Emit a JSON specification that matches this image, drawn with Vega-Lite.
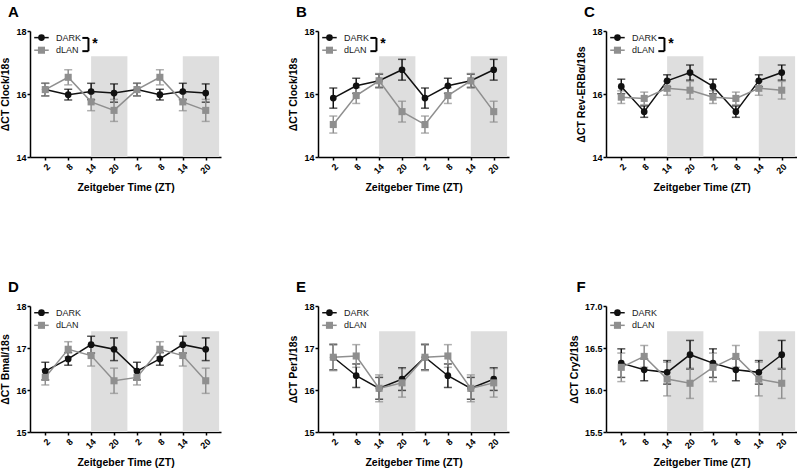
{
"$schema": "https://vega.github.io/schema/vega-lite/v6.json",
"padding": {"left": 0, "top": 5, "right": 0, "bottom": 0},
"datasets": {
"one": [{}],
"shade": [{"start": 14, "end": 23.5}, {"start": 38, "end": 47.5}],
"d": [
{"panel":"A","group":"DARK","zt":2,"mean":16.14,"sem":0.2},{"panel":"A","group":"DARK","zt":8,"mean":15.98,"sem":0.17},{"panel":"A","group":"DARK","zt":14,"mean":16.08,"sem":0.26},{"panel":"A","group":"DARK","zt":20,"mean":16.03,"sem":0.29},
{"panel":"A","group":"DARK","zt":26,"mean":16.14,"sem":0.2},{"panel":"A","group":"DARK","zt":32,"mean":15.98,"sem":0.17},{"panel":"A","group":"DARK","zt":38,"mean":16.08,"sem":0.26},{"panel":"A","group":"DARK","zt":44,"mean":16.03,"sem":0.29},
{"panel":"A","group":"dLAN","zt":2,"mean":16.14,"sem":0.2},{"panel":"A","group":"dLAN","zt":8,"mean":16.53,"sem":0.24},{"panel":"A","group":"dLAN","zt":14,"mean":15.75,"sem":0.28},{"panel":"A","group":"dLAN","zt":20,"mean":15.48,"sem":0.35},
{"panel":"A","group":"dLAN","zt":26,"mean":16.14,"sem":0.2},{"panel":"A","group":"dLAN","zt":32,"mean":16.53,"sem":0.24},{"panel":"A","group":"dLAN","zt":38,"mean":15.75,"sem":0.28},{"panel":"A","group":"dLAN","zt":44,"mean":15.48,"sem":0.35},
{"panel":"B","group":"DARK","zt":2,"mean":15.87,"sem":0.32},{"panel":"B","group":"DARK","zt":8,"mean":16.26,"sem":0.24},{"panel":"B","group":"DARK","zt":14,"mean":16.42,"sem":0.21},{"panel":"B","group":"DARK","zt":20,"mean":16.77,"sem":0.33},
{"panel":"B","group":"DARK","zt":26,"mean":15.87,"sem":0.32},{"panel":"B","group":"DARK","zt":32,"mean":16.26,"sem":0.24},{"panel":"B","group":"DARK","zt":38,"mean":16.42,"sem":0.21},{"panel":"B","group":"DARK","zt":44,"mean":16.77,"sem":0.33},
{"panel":"B","group":"dLAN","zt":2,"mean":15.03,"sem":0.27},{"panel":"B","group":"dLAN","zt":8,"mean":15.95,"sem":0.25},{"panel":"B","group":"dLAN","zt":14,"mean":16.42,"sem":0.23},{"panel":"B","group":"dLAN","zt":20,"mean":15.44,"sem":0.33},
{"panel":"B","group":"dLAN","zt":26,"mean":15.03,"sem":0.27},{"panel":"B","group":"dLAN","zt":32,"mean":15.95,"sem":0.25},{"panel":"B","group":"dLAN","zt":38,"mean":16.42,"sem":0.23},{"panel":"B","group":"dLAN","zt":44,"mean":15.44,"sem":0.33},
{"panel":"C","group":"DARK","zt":2,"mean":16.24,"sem":0.23},{"panel":"C","group":"DARK","zt":8,"mean":15.44,"sem":0.18},{"panel":"C","group":"DARK","zt":14,"mean":16.42,"sem":0.19},{"panel":"C","group":"DARK","zt":20,"mean":16.68,"sem":0.24},
{"panel":"C","group":"DARK","zt":26,"mean":16.24,"sem":0.23},{"panel":"C","group":"DARK","zt":32,"mean":15.44,"sem":0.18},{"panel":"C","group":"DARK","zt":38,"mean":16.42,"sem":0.19},{"panel":"C","group":"DARK","zt":44,"mean":16.68,"sem":0.24},
{"panel":"C","group":"dLAN","zt":2,"mean":15.9,"sem":0.2},{"panel":"C","group":"dLAN","zt":8,"mean":15.86,"sem":0.2},{"panel":"C","group":"dLAN","zt":14,"mean":16.18,"sem":0.22},{"panel":"C","group":"dLAN","zt":20,"mean":16.12,"sem":0.28},
{"panel":"C","group":"dLAN","zt":26,"mean":15.9,"sem":0.2},{"panel":"C","group":"dLAN","zt":32,"mean":15.86,"sem":0.2},{"panel":"C","group":"dLAN","zt":38,"mean":16.18,"sem":0.22},{"panel":"C","group":"dLAN","zt":44,"mean":16.12,"sem":0.28},
{"panel":"D","group":"DARK","zt":2,"mean":16.45,"sem":0.21},{"panel":"D","group":"DARK","zt":8,"mean":16.74,"sem":0.15},{"panel":"D","group":"DARK","zt":14,"mean":17.08,"sem":0.2},{"panel":"D","group":"DARK","zt":20,"mean":16.97,"sem":0.27},
{"panel":"D","group":"DARK","zt":26,"mean":16.45,"sem":0.21},{"panel":"D","group":"DARK","zt":32,"mean":16.74,"sem":0.15},{"panel":"D","group":"DARK","zt":38,"mean":17.08,"sem":0.2},{"panel":"D","group":"DARK","zt":44,"mean":16.97,"sem":0.27},
{"panel":"D","group":"dLAN","zt":2,"mean":16.3,"sem":0.18},{"panel":"D","group":"dLAN","zt":8,"mean":16.97,"sem":0.18},{"panel":"D","group":"dLAN","zt":14,"mean":16.82,"sem":0.25},{"panel":"D","group":"dLAN","zt":20,"mean":16.22,"sem":0.3},
{"panel":"D","group":"dLAN","zt":26,"mean":16.3,"sem":0.18},{"panel":"D","group":"dLAN","zt":32,"mean":16.97,"sem":0.18},{"panel":"D","group":"dLAN","zt":38,"mean":16.82,"sem":0.25},{"panel":"D","group":"dLAN","zt":44,"mean":16.22,"sem":0.3},
{"panel":"E","group":"DARK","zt":2,"mean":16.78,"sem":0.3},{"panel":"E","group":"DARK","zt":8,"mean":16.34,"sem":0.28},{"panel":"E","group":"DARK","zt":14,"mean":16.04,"sem":0.26},{"panel":"E","group":"DARK","zt":20,"mean":16.26,"sem":0.27},
{"panel":"E","group":"DARK","zt":26,"mean":16.78,"sem":0.3},{"panel":"E","group":"DARK","zt":32,"mean":16.34,"sem":0.28},{"panel":"E","group":"DARK","zt":38,"mean":16.04,"sem":0.26},{"panel":"E","group":"DARK","zt":44,"mean":16.26,"sem":0.27},
{"panel":"E","group":"dLAN","zt":2,"mean":16.78,"sem":0.32},{"panel":"E","group":"dLAN","zt":8,"mean":16.81,"sem":0.27},{"panel":"E","group":"dLAN","zt":14,"mean":16.04,"sem":0.32},{"panel":"E","group":"dLAN","zt":20,"mean":16.17,"sem":0.34},
{"panel":"E","group":"dLAN","zt":26,"mean":16.78,"sem":0.32},{"panel":"E","group":"dLAN","zt":32,"mean":16.81,"sem":0.27},{"panel":"E","group":"dLAN","zt":38,"mean":16.04,"sem":0.32},{"panel":"E","group":"dLAN","zt":44,"mean":16.17,"sem":0.34},
{"panel":"F","group":"DARK","zt":2,"mean":16.32,"sem":0.17},{"panel":"F","group":"DARK","zt":8,"mean":16.24,"sem":0.13},{"panel":"F","group":"DARK","zt":14,"mean":16.21,"sem":0.14},{"panel":"F","group":"DARK","zt":20,"mean":16.42,"sem":0.17},
{"panel":"F","group":"DARK","zt":26,"mean":16.32,"sem":0.17},{"panel":"F","group":"DARK","zt":32,"mean":16.24,"sem":0.13},{"panel":"F","group":"DARK","zt":38,"mean":16.21,"sem":0.14},{"panel":"F","group":"DARK","zt":44,"mean":16.42,"sem":0.17},
{"panel":"F","group":"dLAN","zt":2,"mean":16.27,"sem":0.17},{"panel":"F","group":"dLAN","zt":8,"mean":16.4,"sem":0.13},{"panel":"F","group":"dLAN","zt":14,"mean":16.13,"sem":0.2},{"panel":"F","group":"dLAN","zt":20,"mean":16.08,"sem":0.18},
{"panel":"F","group":"dLAN","zt":26,"mean":16.27,"sem":0.17},{"panel":"F","group":"dLAN","zt":32,"mean":16.4,"sem":0.13},{"panel":"F","group":"dLAN","zt":38,"mean":16.13,"sem":0.2},{"panel":"F","group":"dLAN","zt":44,"mean":16.08,"sem":0.18}
]
},
"bounds": "flush",
"spacing": 275,
"resolve": {"scale": {"color": "independent"}, "legend": {"color": "independent"}},
"vconcat": [
{"hconcat": [
{"title": "A", "width": 191, "height": 126, "layer": [
 {"data": {"name": "shade"}, "mark": {"type": "rect", "color": "#dedede"}, "encoding": {
  "x": {"field": "start", "type": "quantitative", "title": "Zeitgeber Time (ZT)", "scale": {"domain": [-2, 48], "nice": false, "zero": false}, "axis": {"values": [2,8,14,20,26,32,38,44], "labelExpr": "'' + (datum.value % 24)", "labelAngle": -45, "labelOverlap": false}},
  "x2": {"field": "end"},
  "y": {"datum": 17.2, "type": "quantitative", "title": "ΔCT Clock/18s", "scale": {"domain": [14, 18], "nice": false, "zero": false}, "axis": {"values": [14,15,16,17,18]}},
  "y2": {"datum": 14}}},
 {"data": {"name": "d"}, "transform": [{"filter": "datum.panel === 'A'"}],
  "encoding": {"x": {"field": "zt", "type": "quantitative", "title": "Zeitgeber Time (ZT)", "axis": {"values": [2,8,14,20,26,32,38,44], "labelExpr": "'' + (datum.value % 24)", "labelAngle": -45, "labelOverlap": false}}, "y": {"field": "mean", "type": "quantitative", "title": "ΔCT Clock/18s"},
   "color": {"field": "group", "type": "nominal", "scale": {"domain": ["DARK", "dLAN"], "range": ["#111111", "#8f8f8f"]}, "legend": null}},
  "layer": [
   {"mark": {"type": "errorbar", "ticks": {"size": 8}, "thickness": 1.5}, "encoding": {"yError": {"field": "sem"}}},
   {"mark": {"type": "line", "strokeWidth": 1.5}, "encoding": {}},
   {"transform": [{"filter": "datum.group === 'DARK'"}], "mark": {"type": "point", "shape": "circle", "filled": true, "opacity": 1, "size": 45}, "encoding": {}},
   {"transform": [{"filter": "datum.group === 'dLAN'"}], "mark": {"type": "point", "shape": "square", "filled": true, "opacity": 1, "size": 50}, "encoding": {}}
  ]},
 {"data": {"name": "one"}, "mark": {"type": "rule", "color": "#111111", "strokeWidth": 1.5}, "encoding": {"x": {"datum": -0.9, "type": "quantitative", "axis": {"values": [2,8,14,20,26,32,38,44], "labelExpr": "'' + (datum.value % 24)", "labelAngle": -45, "labelOverlap": false}}, "x2": {"datum": 2.9}, "y": {"datum": 17.79}}},
 {"data": {"name": "one"}, "mark": {"type": "point", "shape": "circle", "filled": true, "opacity": 1, "size": 45, "color": "#111111"}, "encoding": {"x": {"datum": 1, "type": "quantitative", "axis": {"values": [2,8,14,20,26,32,38,44], "labelExpr": "'' + (datum.value % 24)", "labelAngle": -45, "labelOverlap": false}}, "y": {"datum": 17.79}}},
 {"data": {"name": "one"}, "mark": {"type": "text", "text": "DARK", "fontSize": 9, "color": "#222", "align": "left", "baseline": "middle"}, "encoding": {"x": {"datum": 4.8, "type": "quantitative", "axis": {"values": [2,8,14,20,26,32,38,44], "labelExpr": "'' + (datum.value % 24)", "labelAngle": -45, "labelOverlap": false}}, "y": {"datum": 17.79}}},
 {"data": {"name": "one"}, "mark": {"type": "rule", "color": "#8f8f8f", "strokeWidth": 1.5}, "encoding": {"x": {"datum": -0.9, "type": "quantitative", "axis": {"values": [2,8,14,20,26,32,38,44], "labelExpr": "'' + (datum.value % 24)", "labelAngle": -45, "labelOverlap": false}}, "x2": {"datum": 2.9}, "y": {"datum": 17.39}}},
 {"data": {"name": "one"}, "mark": {"type": "point", "shape": "square", "filled": true, "opacity": 1, "size": 50, "color": "#8f8f8f"}, "encoding": {"x": {"datum": 1, "type": "quantitative", "axis": {"values": [2,8,14,20,26,32,38,44], "labelExpr": "'' + (datum.value % 24)", "labelAngle": -45, "labelOverlap": false}}, "y": {"datum": 17.39}}},
 {"data": {"name": "one"}, "mark": {"type": "text", "text": "dLAN", "fontSize": 9, "color": "#222", "align": "left", "baseline": "middle"}, "encoding": {"x": {"datum": 4.8, "type": "quantitative", "axis": {"values": [2,8,14,20,26,32,38,44], "labelExpr": "'' + (datum.value % 24)", "labelAngle": -45, "labelOverlap": false}}, "y": {"datum": 17.39}}},
 {"data": {"name": "one"}, "mark": {"type": "rule", "strokeWidth": 2, "color": "#000"}, "encoding": {"x": {"datum": 13.3, "type": "quantitative", "axis": {"values": [2,8,14,20,26,32,38,44], "labelExpr": "'' + (datum.value % 24)", "labelAngle": -45, "labelOverlap": false}}, "y": {"datum": 17.78}, "y2": {"datum": 17.36}}},
 {"data": {"name": "one"}, "mark": {"type": "rule", "strokeWidth": 2, "color": "#000"}, "encoding": {"x": {"datum": 11.7, "type": "quantitative", "axis": {"values": [2,8,14,20,26,32,38,44], "labelExpr": "'' + (datum.value % 24)", "labelAngle": -45, "labelOverlap": false}}, "x2": {"datum": 13.3}, "y": {"datum": 17.78}}},
 {"data": {"name": "one"}, "mark": {"type": "rule", "strokeWidth": 2, "color": "#000"}, "encoding": {"x": {"datum": 11.7, "type": "quantitative", "axis": {"values": [2,8,14,20,26,32,38,44], "labelExpr": "'' + (datum.value % 24)", "labelAngle": -45, "labelOverlap": false}}, "x2": {"datum": 13.3}, "y": {"datum": 17.36}}},
 {"data": {"name": "one"}, "mark": {"type": "text", "text": "*", "fontSize": 14, "fontWeight": "bold", "color": "#000", "align": "left", "baseline": "middle"}, "encoding": {"x": {"datum": 14.3, "type": "quantitative", "axis": {"values": [2,8,14,20,26,32,38,44], "labelExpr": "'' + (datum.value % 24)", "labelAngle": -45, "labelOverlap": false}}, "y": {"datum": 17.6}}}
]},
{"title": "B", "width": 191, "height": 126, "layer": [
 {"data": {"name": "shade"}, "mark": {"type": "rect", "color": "#dedede"}, "encoding": {
  "x": {"field": "start", "type": "quantitative", "title": "Zeitgeber Time (ZT)", "scale": {"domain": [-2, 48], "nice": false, "zero": false}, "axis": {"values": [2,8,14,20,26,32,38,44], "labelExpr": "'' + (datum.value % 24)", "labelAngle": -45, "labelOverlap": false}},
  "x2": {"field": "end"},
  "y": {"datum": 17.2, "type": "quantitative", "title": "ΔCT Clock/18s", "scale": {"domain": [14, 18], "nice": false, "zero": false}, "axis": {"values": [14,15,16,17,18]}},
  "y2": {"datum": 14}}},
 {"data": {"name": "d"}, "transform": [{"filter": "datum.panel === 'B'"}],
  "encoding": {"x": {"field": "zt", "type": "quantitative", "title": "Zeitgeber Time (ZT)", "axis": {"values": [2,8,14,20,26,32,38,44], "labelExpr": "'' + (datum.value % 24)", "labelAngle": -45, "labelOverlap": false}}, "y": {"field": "mean", "type": "quantitative", "title": "ΔCT Clock/18s"},
   "color": {"field": "group", "type": "nominal", "scale": {"domain": ["DARK", "dLAN"], "range": ["#111111", "#8f8f8f"]}, "legend": null}},
  "layer": [
   {"mark": {"type": "errorbar", "ticks": {"size": 8}, "thickness": 1.5}, "encoding": {"yError": {"field": "sem"}}},
   {"mark": {"type": "line", "strokeWidth": 1.5}, "encoding": {}},
   {"transform": [{"filter": "datum.group === 'DARK'"}], "mark": {"type": "point", "shape": "circle", "filled": true, "opacity": 1, "size": 45}, "encoding": {}},
   {"transform": [{"filter": "datum.group === 'dLAN'"}], "mark": {"type": "point", "shape": "square", "filled": true, "opacity": 1, "size": 50}, "encoding": {}}
  ]},
 {"data": {"name": "one"}, "mark": {"type": "rule", "color": "#111111", "strokeWidth": 1.5}, "encoding": {"x": {"datum": -0.9, "type": "quantitative", "axis": {"values": [2,8,14,20,26,32,38,44], "labelExpr": "'' + (datum.value % 24)", "labelAngle": -45, "labelOverlap": false}}, "x2": {"datum": 2.9}, "y": {"datum": 17.79}}},
 {"data": {"name": "one"}, "mark": {"type": "point", "shape": "circle", "filled": true, "opacity": 1, "size": 45, "color": "#111111"}, "encoding": {"x": {"datum": 1, "type": "quantitative", "axis": {"values": [2,8,14,20,26,32,38,44], "labelExpr": "'' + (datum.value % 24)", "labelAngle": -45, "labelOverlap": false}}, "y": {"datum": 17.79}}},
 {"data": {"name": "one"}, "mark": {"type": "text", "text": "DARK", "fontSize": 9, "color": "#222", "align": "left", "baseline": "middle"}, "encoding": {"x": {"datum": 4.8, "type": "quantitative", "axis": {"values": [2,8,14,20,26,32,38,44], "labelExpr": "'' + (datum.value % 24)", "labelAngle": -45, "labelOverlap": false}}, "y": {"datum": 17.79}}},
 {"data": {"name": "one"}, "mark": {"type": "rule", "color": "#8f8f8f", "strokeWidth": 1.5}, "encoding": {"x": {"datum": -0.9, "type": "quantitative", "axis": {"values": [2,8,14,20,26,32,38,44], "labelExpr": "'' + (datum.value % 24)", "labelAngle": -45, "labelOverlap": false}}, "x2": {"datum": 2.9}, "y": {"datum": 17.39}}},
 {"data": {"name": "one"}, "mark": {"type": "point", "shape": "square", "filled": true, "opacity": 1, "size": 50, "color": "#8f8f8f"}, "encoding": {"x": {"datum": 1, "type": "quantitative", "axis": {"values": [2,8,14,20,26,32,38,44], "labelExpr": "'' + (datum.value % 24)", "labelAngle": -45, "labelOverlap": false}}, "y": {"datum": 17.39}}},
 {"data": {"name": "one"}, "mark": {"type": "text", "text": "dLAN", "fontSize": 9, "color": "#222", "align": "left", "baseline": "middle"}, "encoding": {"x": {"datum": 4.8, "type": "quantitative", "axis": {"values": [2,8,14,20,26,32,38,44], "labelExpr": "'' + (datum.value % 24)", "labelAngle": -45, "labelOverlap": false}}, "y": {"datum": 17.39}}},
 {"data": {"name": "one"}, "mark": {"type": "rule", "strokeWidth": 2, "color": "#000"}, "encoding": {"x": {"datum": 13.3, "type": "quantitative", "axis": {"values": [2,8,14,20,26,32,38,44], "labelExpr": "'' + (datum.value % 24)", "labelAngle": -45, "labelOverlap": false}}, "y": {"datum": 17.78}, "y2": {"datum": 17.36}}},
 {"data": {"name": "one"}, "mark": {"type": "rule", "strokeWidth": 2, "color": "#000"}, "encoding": {"x": {"datum": 11.7, "type": "quantitative", "axis": {"values": [2,8,14,20,26,32,38,44], "labelExpr": "'' + (datum.value % 24)", "labelAngle": -45, "labelOverlap": false}}, "x2": {"datum": 13.3}, "y": {"datum": 17.78}}},
 {"data": {"name": "one"}, "mark": {"type": "rule", "strokeWidth": 2, "color": "#000"}, "encoding": {"x": {"datum": 11.7, "type": "quantitative", "axis": {"values": [2,8,14,20,26,32,38,44], "labelExpr": "'' + (datum.value % 24)", "labelAngle": -45, "labelOverlap": false}}, "x2": {"datum": 13.3}, "y": {"datum": 17.36}}},
 {"data": {"name": "one"}, "mark": {"type": "text", "text": "*", "fontSize": 14, "fontWeight": "bold", "color": "#000", "align": "left", "baseline": "middle"}, "encoding": {"x": {"datum": 14.3, "type": "quantitative", "axis": {"values": [2,8,14,20,26,32,38,44], "labelExpr": "'' + (datum.value % 24)", "labelAngle": -45, "labelOverlap": false}}, "y": {"datum": 17.6}}}
]},
{"title": "C", "width": 191, "height": 126, "layer": [
 {"data": {"name": "shade"}, "mark": {"type": "rect", "color": "#dedede"}, "encoding": {
  "x": {"field": "start", "type": "quantitative", "title": "Zeitgeber Time (ZT)", "scale": {"domain": [-2, 48], "nice": false, "zero": false}, "axis": {"values": [2,8,14,20,26,32,38,44], "labelExpr": "'' + (datum.value % 24)", "labelAngle": -45, "labelOverlap": false}},
  "x2": {"field": "end"},
  "y": {"datum": 17.2, "type": "quantitative", "title": "ΔCT Rev-ERBα/18s", "scale": {"domain": [14, 18], "nice": false, "zero": false}, "axis": {"values": [14,15,16,17,18]}},
  "y2": {"datum": 14}}},
 {"data": {"name": "d"}, "transform": [{"filter": "datum.panel === 'C'"}],
  "encoding": {"x": {"field": "zt", "type": "quantitative", "title": "Zeitgeber Time (ZT)", "axis": {"values": [2,8,14,20,26,32,38,44], "labelExpr": "'' + (datum.value % 24)", "labelAngle": -45, "labelOverlap": false}}, "y": {"field": "mean", "type": "quantitative", "title": "ΔCT Rev-ERBα/18s"},
   "color": {"field": "group", "type": "nominal", "scale": {"domain": ["DARK", "dLAN"], "range": ["#111111", "#8f8f8f"]}, "legend": null}},
  "layer": [
   {"mark": {"type": "errorbar", "ticks": {"size": 8}, "thickness": 1.5}, "encoding": {"yError": {"field": "sem"}}},
   {"mark": {"type": "line", "strokeWidth": 1.5}, "encoding": {}},
   {"transform": [{"filter": "datum.group === 'DARK'"}], "mark": {"type": "point", "shape": "circle", "filled": true, "opacity": 1, "size": 45}, "encoding": {}},
   {"transform": [{"filter": "datum.group === 'dLAN'"}], "mark": {"type": "point", "shape": "square", "filled": true, "opacity": 1, "size": 50}, "encoding": {}}
  ]},
 {"data": {"name": "one"}, "mark": {"type": "rule", "color": "#111111", "strokeWidth": 1.5}, "encoding": {"x": {"datum": -0.9, "type": "quantitative", "axis": {"values": [2,8,14,20,26,32,38,44], "labelExpr": "'' + (datum.value % 24)", "labelAngle": -45, "labelOverlap": false}}, "x2": {"datum": 2.9}, "y": {"datum": 17.79}}},
 {"data": {"name": "one"}, "mark": {"type": "point", "shape": "circle", "filled": true, "opacity": 1, "size": 45, "color": "#111111"}, "encoding": {"x": {"datum": 1, "type": "quantitative", "axis": {"values": [2,8,14,20,26,32,38,44], "labelExpr": "'' + (datum.value % 24)", "labelAngle": -45, "labelOverlap": false}}, "y": {"datum": 17.79}}},
 {"data": {"name": "one"}, "mark": {"type": "text", "text": "DARK", "fontSize": 9, "color": "#222", "align": "left", "baseline": "middle"}, "encoding": {"x": {"datum": 4.8, "type": "quantitative", "axis": {"values": [2,8,14,20,26,32,38,44], "labelExpr": "'' + (datum.value % 24)", "labelAngle": -45, "labelOverlap": false}}, "y": {"datum": 17.79}}},
 {"data": {"name": "one"}, "mark": {"type": "rule", "color": "#8f8f8f", "strokeWidth": 1.5}, "encoding": {"x": {"datum": -0.9, "type": "quantitative", "axis": {"values": [2,8,14,20,26,32,38,44], "labelExpr": "'' + (datum.value % 24)", "labelAngle": -45, "labelOverlap": false}}, "x2": {"datum": 2.9}, "y": {"datum": 17.39}}},
 {"data": {"name": "one"}, "mark": {"type": "point", "shape": "square", "filled": true, "opacity": 1, "size": 50, "color": "#8f8f8f"}, "encoding": {"x": {"datum": 1, "type": "quantitative", "axis": {"values": [2,8,14,20,26,32,38,44], "labelExpr": "'' + (datum.value % 24)", "labelAngle": -45, "labelOverlap": false}}, "y": {"datum": 17.39}}},
 {"data": {"name": "one"}, "mark": {"type": "text", "text": "dLAN", "fontSize": 9, "color": "#222", "align": "left", "baseline": "middle"}, "encoding": {"x": {"datum": 4.8, "type": "quantitative", "axis": {"values": [2,8,14,20,26,32,38,44], "labelExpr": "'' + (datum.value % 24)", "labelAngle": -45, "labelOverlap": false}}, "y": {"datum": 17.39}}},
 {"data": {"name": "one"}, "mark": {"type": "rule", "strokeWidth": 2, "color": "#000"}, "encoding": {"x": {"datum": 13.3, "type": "quantitative", "axis": {"values": [2,8,14,20,26,32,38,44], "labelExpr": "'' + (datum.value % 24)", "labelAngle": -45, "labelOverlap": false}}, "y": {"datum": 17.78}, "y2": {"datum": 17.36}}},
 {"data": {"name": "one"}, "mark": {"type": "rule", "strokeWidth": 2, "color": "#000"}, "encoding": {"x": {"datum": 11.7, "type": "quantitative", "axis": {"values": [2,8,14,20,26,32,38,44], "labelExpr": "'' + (datum.value % 24)", "labelAngle": -45, "labelOverlap": false}}, "x2": {"datum": 13.3}, "y": {"datum": 17.78}}},
 {"data": {"name": "one"}, "mark": {"type": "rule", "strokeWidth": 2, "color": "#000"}, "encoding": {"x": {"datum": 11.7, "type": "quantitative", "axis": {"values": [2,8,14,20,26,32,38,44], "labelExpr": "'' + (datum.value % 24)", "labelAngle": -45, "labelOverlap": false}}, "x2": {"datum": 13.3}, "y": {"datum": 17.36}}},
 {"data": {"name": "one"}, "mark": {"type": "text", "text": "*", "fontSize": 14, "fontWeight": "bold", "color": "#000", "align": "left", "baseline": "middle"}, "encoding": {"x": {"datum": 14.3, "type": "quantitative", "axis": {"values": [2,8,14,20,26,32,38,44], "labelExpr": "'' + (datum.value % 24)", "labelAngle": -45, "labelOverlap": false}}, "y": {"datum": 17.6}}}
]}
], "spacing": 97, "bounds": "flush", "resolve": {"scale": {"color": "independent"}, "legend": {"color": "independent"}}},
{"hconcat": [
{"title": "D", "width": 191, "height": 126, "layer": [
 {"data": {"name": "shade"}, "mark": {"type": "rect", "color": "#dedede"}, "encoding": {
  "x": {"field": "start", "type": "quantitative", "title": "Zeitgeber Time (ZT)", "scale": {"domain": [-2, 48], "nice": false, "zero": false}, "axis": {"values": [2,8,14,20,26,32,38,44], "labelExpr": "'' + (datum.value % 24)", "labelAngle": -45, "labelOverlap": false}},
  "x2": {"field": "end"},
  "y": {"datum": 17.4, "type": "quantitative", "title": "ΔCT Bmal/18s", "scale": {"domain": [15, 18], "nice": false, "zero": false}, "axis": {"values": [15,16,17,18]}},
  "y2": {"datum": 15}}},
 {"data": {"name": "d"}, "transform": [{"filter": "datum.panel === 'D'"}],
  "encoding": {"x": {"field": "zt", "type": "quantitative", "title": "Zeitgeber Time (ZT)", "axis": {"values": [2,8,14,20,26,32,38,44], "labelExpr": "'' + (datum.value % 24)", "labelAngle": -45, "labelOverlap": false}}, "y": {"field": "mean", "type": "quantitative", "title": "ΔCT Bmal/18s"},
   "color": {"field": "group", "type": "nominal", "scale": {"domain": ["DARK", "dLAN"], "range": ["#111111", "#8f8f8f"]}, "legend": null}},
  "layer": [
   {"mark": {"type": "errorbar", "ticks": {"size": 8}, "thickness": 1.5}, "encoding": {"yError": {"field": "sem"}}},
   {"mark": {"type": "line", "strokeWidth": 1.5}, "encoding": {}},
   {"transform": [{"filter": "datum.group === 'DARK'"}], "mark": {"type": "point", "shape": "circle", "filled": true, "opacity": 1, "size": 45}, "encoding": {}},
   {"transform": [{"filter": "datum.group === 'dLAN'"}], "mark": {"type": "point", "shape": "square", "filled": true, "opacity": 1, "size": 50}, "encoding": {}}
  ]},
 {"data": {"name": "one"}, "mark": {"type": "rule", "color": "#111111", "strokeWidth": 1.5}, "encoding": {"x": {"datum": -0.9, "type": "quantitative", "axis": {"values": [2,8,14,20,26,32,38,44], "labelExpr": "'' + (datum.value % 24)", "labelAngle": -45, "labelOverlap": false}}, "x2": {"datum": 2.9}, "y": {"datum": 17.84}}},
 {"data": {"name": "one"}, "mark": {"type": "point", "shape": "circle", "filled": true, "opacity": 1, "size": 45, "color": "#111111"}, "encoding": {"x": {"datum": 1, "type": "quantitative", "axis": {"values": [2,8,14,20,26,32,38,44], "labelExpr": "'' + (datum.value % 24)", "labelAngle": -45, "labelOverlap": false}}, "y": {"datum": 17.84}}},
 {"data": {"name": "one"}, "mark": {"type": "text", "text": "DARK", "fontSize": 9, "color": "#222", "align": "left", "baseline": "middle"}, "encoding": {"x": {"datum": 4.8, "type": "quantitative", "axis": {"values": [2,8,14,20,26,32,38,44], "labelExpr": "'' + (datum.value % 24)", "labelAngle": -45, "labelOverlap": false}}, "y": {"datum": 17.84}}},
 {"data": {"name": "one"}, "mark": {"type": "rule", "color": "#8f8f8f", "strokeWidth": 1.5}, "encoding": {"x": {"datum": -0.9, "type": "quantitative", "axis": {"values": [2,8,14,20,26,32,38,44], "labelExpr": "'' + (datum.value % 24)", "labelAngle": -45, "labelOverlap": false}}, "x2": {"datum": 2.9}, "y": {"datum": 17.54}}},
 {"data": {"name": "one"}, "mark": {"type": "point", "shape": "square", "filled": true, "opacity": 1, "size": 50, "color": "#8f8f8f"}, "encoding": {"x": {"datum": 1, "type": "quantitative", "axis": {"values": [2,8,14,20,26,32,38,44], "labelExpr": "'' + (datum.value % 24)", "labelAngle": -45, "labelOverlap": false}}, "y": {"datum": 17.54}}},
 {"data": {"name": "one"}, "mark": {"type": "text", "text": "dLAN", "fontSize": 9, "color": "#222", "align": "left", "baseline": "middle"}, "encoding": {"x": {"datum": 4.8, "type": "quantitative", "axis": {"values": [2,8,14,20,26,32,38,44], "labelExpr": "'' + (datum.value % 24)", "labelAngle": -45, "labelOverlap": false}}, "y": {"datum": 17.54}}}
]},
{"title": "E", "width": 191, "height": 126, "layer": [
 {"data": {"name": "shade"}, "mark": {"type": "rect", "color": "#dedede"}, "encoding": {
  "x": {"field": "start", "type": "quantitative", "title": "Zeitgeber Time (ZT)", "scale": {"domain": [-2, 48], "nice": false, "zero": false}, "axis": {"values": [2,8,14,20,26,32,38,44], "labelExpr": "'' + (datum.value % 24)", "labelAngle": -45, "labelOverlap": false}},
  "x2": {"field": "end"},
  "y": {"datum": 17.4, "type": "quantitative", "title": "ΔCT Per1/18s", "scale": {"domain": [15, 18], "nice": false, "zero": false}, "axis": {"values": [15,16,17,18]}},
  "y2": {"datum": 15}}},
 {"data": {"name": "d"}, "transform": [{"filter": "datum.panel === 'E'"}],
  "encoding": {"x": {"field": "zt", "type": "quantitative", "title": "Zeitgeber Time (ZT)", "axis": {"values": [2,8,14,20,26,32,38,44], "labelExpr": "'' + (datum.value % 24)", "labelAngle": -45, "labelOverlap": false}}, "y": {"field": "mean", "type": "quantitative", "title": "ΔCT Per1/18s"},
   "color": {"field": "group", "type": "nominal", "scale": {"domain": ["DARK", "dLAN"], "range": ["#111111", "#8f8f8f"]}, "legend": null}},
  "layer": [
   {"mark": {"type": "errorbar", "ticks": {"size": 8}, "thickness": 1.5}, "encoding": {"yError": {"field": "sem"}}},
   {"mark": {"type": "line", "strokeWidth": 1.5}, "encoding": {}},
   {"transform": [{"filter": "datum.group === 'DARK'"}], "mark": {"type": "point", "shape": "circle", "filled": true, "opacity": 1, "size": 45}, "encoding": {}},
   {"transform": [{"filter": "datum.group === 'dLAN'"}], "mark": {"type": "point", "shape": "square", "filled": true, "opacity": 1, "size": 50}, "encoding": {}}
  ]},
 {"data": {"name": "one"}, "mark": {"type": "rule", "color": "#111111", "strokeWidth": 1.5}, "encoding": {"x": {"datum": -0.9, "type": "quantitative", "axis": {"values": [2,8,14,20,26,32,38,44], "labelExpr": "'' + (datum.value % 24)", "labelAngle": -45, "labelOverlap": false}}, "x2": {"datum": 2.9}, "y": {"datum": 17.84}}},
 {"data": {"name": "one"}, "mark": {"type": "point", "shape": "circle", "filled": true, "opacity": 1, "size": 45, "color": "#111111"}, "encoding": {"x": {"datum": 1, "type": "quantitative", "axis": {"values": [2,8,14,20,26,32,38,44], "labelExpr": "'' + (datum.value % 24)", "labelAngle": -45, "labelOverlap": false}}, "y": {"datum": 17.84}}},
 {"data": {"name": "one"}, "mark": {"type": "text", "text": "DARK", "fontSize": 9, "color": "#222", "align": "left", "baseline": "middle"}, "encoding": {"x": {"datum": 4.8, "type": "quantitative", "axis": {"values": [2,8,14,20,26,32,38,44], "labelExpr": "'' + (datum.value % 24)", "labelAngle": -45, "labelOverlap": false}}, "y": {"datum": 17.84}}},
 {"data": {"name": "one"}, "mark": {"type": "rule", "color": "#8f8f8f", "strokeWidth": 1.5}, "encoding": {"x": {"datum": -0.9, "type": "quantitative", "axis": {"values": [2,8,14,20,26,32,38,44], "labelExpr": "'' + (datum.value % 24)", "labelAngle": -45, "labelOverlap": false}}, "x2": {"datum": 2.9}, "y": {"datum": 17.54}}},
 {"data": {"name": "one"}, "mark": {"type": "point", "shape": "square", "filled": true, "opacity": 1, "size": 50, "color": "#8f8f8f"}, "encoding": {"x": {"datum": 1, "type": "quantitative", "axis": {"values": [2,8,14,20,26,32,38,44], "labelExpr": "'' + (datum.value % 24)", "labelAngle": -45, "labelOverlap": false}}, "y": {"datum": 17.54}}},
 {"data": {"name": "one"}, "mark": {"type": "text", "text": "dLAN", "fontSize": 9, "color": "#222", "align": "left", "baseline": "middle"}, "encoding": {"x": {"datum": 4.8, "type": "quantitative", "axis": {"values": [2,8,14,20,26,32,38,44], "labelExpr": "'' + (datum.value % 24)", "labelAngle": -45, "labelOverlap": false}}, "y": {"datum": 17.54}}}
]},
{"title": "F", "width": 191, "height": 126, "layer": [
 {"data": {"name": "shade"}, "mark": {"type": "rect", "color": "#dedede"}, "encoding": {
  "x": {"field": "start", "type": "quantitative", "title": "Zeitgeber Time (ZT)", "scale": {"domain": [-2, 48], "nice": false, "zero": false}, "axis": {"values": [2,8,14,20,26,32,38,44], "labelExpr": "'' + (datum.value % 24)", "labelAngle": -45, "labelOverlap": false}},
  "x2": {"field": "end"},
  "y": {"datum": 16.7, "type": "quantitative", "title": "ΔCT Cry2/18s", "scale": {"domain": [15.5, 17], "nice": false, "zero": false}, "axis": {"values": [15.5,16,16.5,17], "format": ".1f"}},
  "y2": {"datum": 15.5}}},
 {"data": {"name": "d"}, "transform": [{"filter": "datum.panel === 'F'"}],
  "encoding": {"x": {"field": "zt", "type": "quantitative", "title": "Zeitgeber Time (ZT)", "axis": {"values": [2,8,14,20,26,32,38,44], "labelExpr": "'' + (datum.value % 24)", "labelAngle": -45, "labelOverlap": false}}, "y": {"field": "mean", "type": "quantitative", "title": "ΔCT Cry2/18s"},
   "color": {"field": "group", "type": "nominal", "scale": {"domain": ["DARK", "dLAN"], "range": ["#111111", "#8f8f8f"]}, "legend": null}},
  "layer": [
   {"mark": {"type": "errorbar", "ticks": {"size": 8}, "thickness": 1.5}, "encoding": {"yError": {"field": "sem"}}},
   {"mark": {"type": "line", "strokeWidth": 1.5}, "encoding": {}},
   {"transform": [{"filter": "datum.group === 'DARK'"}], "mark": {"type": "point", "shape": "circle", "filled": true, "opacity": 1, "size": 45}, "encoding": {}},
   {"transform": [{"filter": "datum.group === 'dLAN'"}], "mark": {"type": "point", "shape": "square", "filled": true, "opacity": 1, "size": 50}, "encoding": {}}
  ]},
 {"data": {"name": "one"}, "mark": {"type": "rule", "color": "#111111", "strokeWidth": 1.5}, "encoding": {"x": {"datum": -0.9, "type": "quantitative", "axis": {"values": [2,8,14,20,26,32,38,44], "labelExpr": "'' + (datum.value % 24)", "labelAngle": -45, "labelOverlap": false}}, "x2": {"datum": 2.9}, "y": {"datum": 16.92}}},
 {"data": {"name": "one"}, "mark": {"type": "point", "shape": "circle", "filled": true, "opacity": 1, "size": 45, "color": "#111111"}, "encoding": {"x": {"datum": 1, "type": "quantitative", "axis": {"values": [2,8,14,20,26,32,38,44], "labelExpr": "'' + (datum.value % 24)", "labelAngle": -45, "labelOverlap": false}}, "y": {"datum": 16.92}}},
 {"data": {"name": "one"}, "mark": {"type": "text", "text": "DARK", "fontSize": 9, "color": "#222", "align": "left", "baseline": "middle"}, "encoding": {"x": {"datum": 4.8, "type": "quantitative", "axis": {"values": [2,8,14,20,26,32,38,44], "labelExpr": "'' + (datum.value % 24)", "labelAngle": -45, "labelOverlap": false}}, "y": {"datum": 16.92}}},
 {"data": {"name": "one"}, "mark": {"type": "rule", "color": "#8f8f8f", "strokeWidth": 1.5}, "encoding": {"x": {"datum": -0.9, "type": "quantitative", "axis": {"values": [2,8,14,20,26,32,38,44], "labelExpr": "'' + (datum.value % 24)", "labelAngle": -45, "labelOverlap": false}}, "x2": {"datum": 2.9}, "y": {"datum": 16.77}}},
 {"data": {"name": "one"}, "mark": {"type": "point", "shape": "square", "filled": true, "opacity": 1, "size": 50, "color": "#8f8f8f"}, "encoding": {"x": {"datum": 1, "type": "quantitative", "axis": {"values": [2,8,14,20,26,32,38,44], "labelExpr": "'' + (datum.value % 24)", "labelAngle": -45, "labelOverlap": false}}, "y": {"datum": 16.77}}},
 {"data": {"name": "one"}, "mark": {"type": "text", "text": "dLAN", "fontSize": 9, "color": "#222", "align": "left", "baseline": "middle"}, "encoding": {"x": {"datum": 4.8, "type": "quantitative", "axis": {"values": [2,8,14,20,26,32,38,44], "labelExpr": "'' + (datum.value % 24)", "labelAngle": -45, "labelOverlap": false}}, "y": {"datum": 16.77}}}
]}
], "spacing": 97, "bounds": "flush", "resolve": {"scale": {"color": "independent"}, "legend": {"color": "independent"}}}
],
"config": {
 "font": "Liberation Sans",
 "view": {"stroke": null},
 "axis": {"grid": false, "labelOverlap": false, "labelFlush": false, "domainColor": "#000", "domainWidth": 1.5, "tickColor": "#000", "tickWidth": 1.5, "tickSize": 3, "labelPadding": 1, "labelFont": "Liberation Sans", "labelFontWeight": "bold", "labelFontSize": 9, "labelColor": "#000", "titleFont": "Liberation Sans", "titleFontWeight": "bold", "titleFontSize": 10.5, "titleColor": "#000"},
 "axisY": {"titlePadding": 5},
 "axisX": {"titlePadding": 7, "labelPadding": 2, "labelOverlap": false},
 "title": {"anchor": "start", "fontSize": 15, "fontWeight": "bold", "font": "Liberation Sans", "color": "#000", "offset": 7, "dx": 7}
}
}
